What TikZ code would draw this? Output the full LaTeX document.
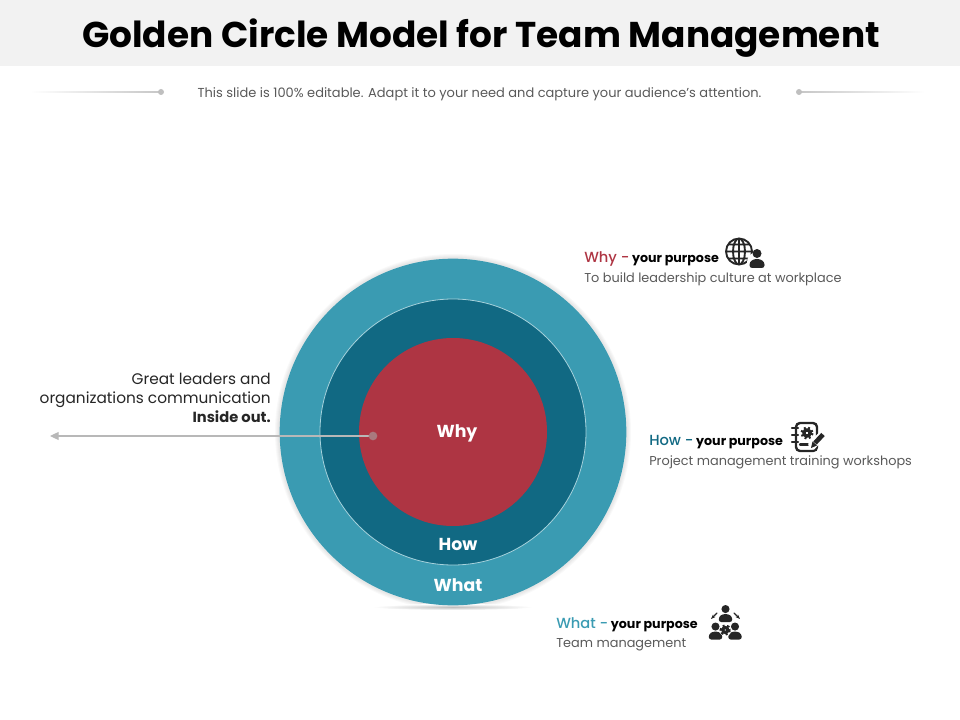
\documentclass[tikz,border=0pt]{standalone}
\usepackage{fontspec}
\setmainfont{Poppins}
\newfontfamily\medfont{Poppins Medium}
\usetikzlibrary{arrows.meta}
\definecolor{whatcol}{HTML}{3A9BB2}
\definecolor{howcol}{HTML}{116983}
\definecolor{whycol}{HTML}{AE3543}
\definecolor{iconcol}{HTML}{262626}
\definecolor{bandcol}{HTML}{F2F2F2}
\tikzset{
	person/.pic={
		\fill[iconcol] (0,-5.5) circle (4.5);
		\fill[iconcol, rounded corners=2pt] (-7.5,9) -- (-7.5,3) -- (-3,0) -- (3,0) -- (7.5,3) -- (7.5,9) -- cycle;
	},
	gear/.pic={
		\fill[white] (0,0) circle (8.5);
		\draw[iconcol, line width=2.6pt, line cap=butt, dash pattern=on 1.5pt off 1.45pt] (0,0) circle (5.5);
		\draw[iconcol, line width=2.4pt, line cap=butt] (0,0) circle (3.4);
	}
}
\begin{document}
\begin{tikzpicture}[x=0.75pt, y=-0.75pt, every node/.style={inner sep=0pt}, line cap=round]
		\tikzstyle{disc} = [circle, draw=white!55!whatcol, line width=0.6pt]
		\tikzstyle{ringlabel} = [text=white, font=\fontsize{13pt}{16pt}\selectfont\bfseries]
		\tikzstyle{subhead} = [anchor=west, font=\fontsize{9.5pt}{11pt}\selectfont\bfseries]
		\tikzstyle{subtext} = [anchor=west, text=black!65, font=\fontsize{9.65pt}{11pt}\selectfont]
		\tikzstyle{bullet} = [circle, minimum size=4.5pt, fill=black!25]
		\useasboundingbox (0,0) rectangle (960,720);
		
		% header
		\fill[bandcol] (0,0) rectangle (960,66);
		\node (title) at (481,38) {\fontsize{26.9pt}{30pt}\selectfont\bfseries Golden Circle Model for Team Management};
		\node[text=black!65, font=\fontsize{9.75pt}{11pt}\selectfont] (subtitle) at (479.5,94) {This slide is 100\% editable. Adapt it to your need and capture your audience's attention.};
		\shade[left color=white, right color=black!22] (30,91.7) rectangle (160,92.5);
		\shade[left color=black!22, right color=white] (800,91.7) rectangle (925,92.5);
		\node[bullet] (leftbullet) at (161,92) {};
		\node[bullet] (rightbullet) at (799,92) {};
		
		% circles
		\foreach \r in {175,176,177,178} {
			\fill[black, opacity=0.022] (453,432) circle (\r);
		}
		\shade[inner color=black!25, outer color=white] (453,607) ellipse (80 and 3);
		\node[circle, fill=whatcol, minimum size=260pt] (what) at (453,432) {};
		\node[disc, fill=howcol, minimum size=199.5pt] (how) at (453,432) {};
		\node[circle, fill=whycol, minimum size=141pt] (why) at (453,432) {};
		\node[ringlabel] (whylabel) at (457,433) {Why};
		\node[ringlabel] (howlabel) at (458,544.5) {How};
		\node[ringlabel] (whatlabel) at (458,585.5) {What};
		
		% left note
		\node[anchor=east, align=right, font=\fontsize{11.5pt}{14.3pt}\selectfont, text=black!85] (note) at (271,397.5) {Great leaders and\\organizations communication\\{\fontsize{11pt}{14.3pt}\selectfont\bfseries Inside out.}};
		\node[circle, minimum size=6.5pt, fill=white!65!black!60!whycol] (dot) at (373,436) {};
		\coordinate (noteend) at (50,436);
		\draw[-{Triangle[length=6.5pt, width=6pt]}, black!28, line width=0.8pt] (dot) -- (noteend);
		
		% why text
		\node[subhead] (whyhead) at (584,259) {\textcolor{whycol}{\fontsize{11pt}{11pt}\medfont\mdseries Why -} your purpose};
		\node[subtext] (whytext) at (584,279) {To build leadership culture at workplace};
		\draw[iconcol, line width=1.4pt] (739,251.5) circle (13) (739,251.5) ellipse (6 and 13) (726,251.5) -- (752,251.5) (728,244.5) -- (750,244.5) (728,258.5) -- (750,258.5) (739,238.5) -- (739,264.5);
		\fill[white] (757,262) circle (10);
		\pic at (757,259) {person};
		
		% how text
		\node[subhead] (howhead) at (649,442) {\textcolor{howcol}{\fontsize{11pt}{11pt}\medfont\mdseries How -} your purpose};
		\node[subtext] (howtext) at (649,462) {Project management training workshops};
		\draw[iconcol, line width=1.8pt, rounded corners=3pt] (796,423) rectangle (817,451);
		\draw[iconcol, line width=1.8pt] (792,428) -- (798,428) (792,435) -- (798,435) (792,442) -- (798,442) (800,444.5) -- (808,444.5);
		\pic[scale=0.9] at (807,433) {gear};
		\draw[white, line width=6pt, line cap=butt] (811,447) -- (824,433);
		\draw[iconcol, line width=3.5pt, line cap=butt] (815,443) -- (823,434.5);
		\fill[iconcol] (811,448) -- (812.5,441.5) -- (817,445.5) -- cycle;
		
		% what text
		\node[subhead] (whathead) at (556,625) {\textcolor{whatcol}{\fontsize{11pt}{11pt}\medfont\mdseries What -} your purpose};
		\node[subtext] (whattext) at (556,645) {Team management};
		\pic[scale=0.9] at (725.5,614) {person};
		\pic[scale=0.9] at (715.5,631.5) {person};
		\pic[scale=0.9] at (735,631.5) {person};
		\pic[scale=0.72] at (725.3,630) {gear};
		\draw[iconcol, line width=0.9pt, -{Stealth[length=3.5pt]}] (717,613) -- (711,619);
		\draw[iconcol, line width=0.9pt, -{Stealth[length=3.5pt]}] (734,613) -- (740,619);
\end{tikzpicture}
\end{document}
